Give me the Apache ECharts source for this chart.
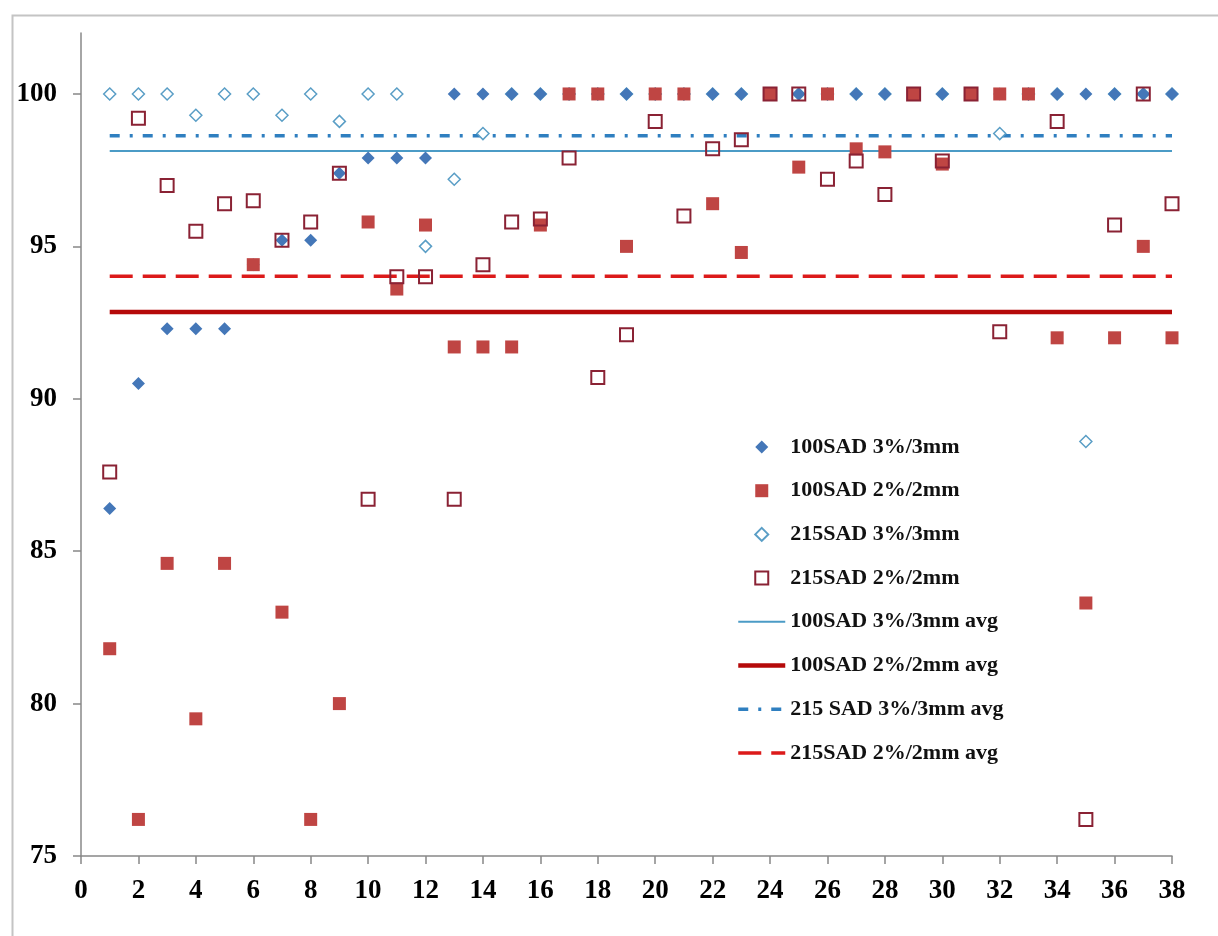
<!DOCTYPE html>
<html>
<head>
<meta charset="utf-8">
<script src="https://cdn.jsdelivr.net/npm/echarts@6/dist/echarts.min.js"></script>
<style>html,body{margin:0;padding:0;background:#fff}#chart{width:1218px;height:936px}</style>
</head>
<body>
<div id="chart"></div>
<script>
// x positions (case number)
const cases = [1,2,3,4,5,6,7,8,9,10,11,12,13,14,15,16,17,18,19,20,21,22,23,24,25,26,27,28,29,30,31,32,33,34,35,36,37,38];
// 100SAD 3%/3mm
const sad100_33 = [86.4,90.5,92.3,92.3,92.3,94.4,95.2,95.2,97.4,97.9,97.9,97.9,100,100,100,100,100,100,100,100,100,100,100,100,100,100,100,100,100,100,100,100,100,100,100,100,100,100];
// 100SAD 2%/2mm
const sad100_22 = [81.8,76.2,84.6,79.5,84.6,94.4,83.0,76.2,80.0,95.8,93.6,95.7,91.7,91.7,91.7,95.7,100,100,95.0,100,100,96.4,94.8,100,97.6,100,98.2,98.1,100,97.7,100,100,100,92.0,83.3,92.0,95.0,92.0];
// 215SAD 3%/3mm
const sad215_33 = [100,100,100,99.3,100,100,99.3,100,99.1,100,100,95.0,97.2,98.7,100,100,100,100,100,100,100,100,100,100,100,100,100,100,100,100,100,98.7,100,100,88.6,100,100,100];
// 215SAD 2%/2mm
const sad215_22 = [87.6,99.2,97.0,95.5,96.4,96.5,95.2,95.8,97.4,86.7,94.0,94.0,86.7,94.4,95.8,95.9,97.9,90.7,92.1,99.1,96.0,98.2,98.5,100,100,97.2,97.8,96.7,100,97.8,100,92.2,null,99.1,76.2,95.7,100,96.4];
// averages (horizontal lines from first to last case)
const avgNames = ['100SAD 3%/3mm avg','100SAD 2%/2mm avg','215 SAD 3%/3mm avg','215SAD 2%/2mm avg'];
const avgValues = [98.13, 92.85, 98.63, 94.02];
const avgSpan = [1, 38];
const scatterNames = ['100SAD 3%/3mm','100SAD 2%/2mm','215SAD 3%/3mm','215SAD 2%/2mm'];
const yTicks = [75,80,85,90,95,100];

const pair = arr => cases.map((x,i) => [x, arr[i]]);
const avgLine = v => avgSpan.map(x => [x, v]);

const avgStyles = [
  {color: '#4b9bc6', width: 2, type: 'solid'},
  {color: '#b50a0a', width: 4.5, type: 'solid'},
  {color: '#2f7fc0', width: 3.5, type: [10, 10, 3, 10]},
  {color: '#dc1a1a', width: 3.5, type: [23, 10]}
];

const DIAMOND_ICON = 'path://M5,0L10,5L5,10L0,5Z';
const SQUARE_ICON = 'path://M0,0L10,0L10,10L0,10Z';
const legendData = [
  {name: scatterNames[0], icon: DIAMOND_ICON},
  {name: scatterNames[1], icon: SQUARE_ICON},
  {name: scatterNames[2], icon: DIAMOND_ICON},
  {name: scatterNames[3], icon: SQUARE_ICON}
].concat(avgNames.map((n, i) => ({
  name: n,
  itemStyle: {opacity: 0, color: 'rgba(0,0,0,0)', borderWidth: 0},
  lineStyle: {width: avgStyles[i].width, color: avgStyles[i].color, type: avgStyles[i].type}
})));

const font = 'Liberation Serif';
const chart = echarts.init(document.getElementById('chart'), null, {renderer:'canvas'});
chart.setOption({
  animation: false,
  backgroundColor: '#fff',
  graphic: [{
    type: 'rect', left: 10, top: 13, silent: true,
    shape: {width: 1300, height: 1000},
    style: {fill: 'none', stroke: '#c4c4c4', lineWidth: 2}
  }],
  grid: {left: 81, right: 46, top: 33, bottom: 80, containLabel: false},
  xAxis: {
    type: 'value', min: 0, max: 38, interval: 2,
    axisLine: {lineStyle: {color: '#888', width: 1.5}},
    axisTick: {show: true, inside: false, length: 8, lineStyle: {color: '#888', width: 1.5}},
    axisLabel: {fontFamily: font, fontWeight: 'bold', fontSize: 27, color: '#000', margin: 22},
    splitLine: {show: false}
  },
  yAxis: {
    type: 'value', min: 75, max: 102, interval: 5,
    axisLine: {show: true, lineStyle: {color: '#888', width: 1.5}},
    axisTick: {show: true, inside: false, length: 8, customValues: yTicks, lineStyle: {color: '#888', width: 1.5}},
    axisLabel: {fontFamily: font, fontWeight: 'bold', fontSize: 27, color: '#000', margin: 24, customValues: yTicks},
    splitLine: {show: false}
  },
  legend: {
    orient: 'vertical', left: 731, top: 431,
    itemWidth: 47, itemHeight: 13, itemGap: 21.7,
    symbolKeepAspect: true,
    data: legendData,
    textStyle: {fontFamily: font, fontWeight: 'bold', fontSize: 22, color: '#111', lineHeight: 22}
  },
  series: [
    {name: scatterNames[0], type: 'scatter', z: 4, symbol: 'diamond', symbolSize: 13,
     itemStyle: {color: '#4477b8', opacity: 1}, data: pair(sad100_33)},
    {name: scatterNames[1], type: 'scatter', z: 5, symbol: 'rect', symbolSize: 13,
     itemStyle: {color: '#bf4543', opacity: 1}, data: pair(sad100_22)},
    {name: scatterNames[2], type: 'scatter', z: 3, symbol: 'diamond', symbolSize: 12,
     itemStyle: {color: '#fff', borderColor: '#5a9ec6', borderWidth: 1.5, opacity: 1}, data: pair(sad215_33)},
    {name: scatterNames[3], type: 'scatter', z: 6, symbol: 'rect', symbolSize: 13,
     itemStyle: {color: 'rgba(255,255,255,0)', borderColor: '#8a2234', borderWidth: 2, opacity: 1}, data: pair(sad215_22)}
  ].concat(avgNames.map((n, i) => ({
    name: n, type: 'line', z: 1, symbol: 'none', data: avgLine(avgValues[i]),
    lineStyle: {color: avgStyles[i].color, width: avgStyles[i].width, type: avgStyles[i].type},
    itemStyle: {color: avgStyles[i].color}
  })))
});
</script>
</body>
</html>
